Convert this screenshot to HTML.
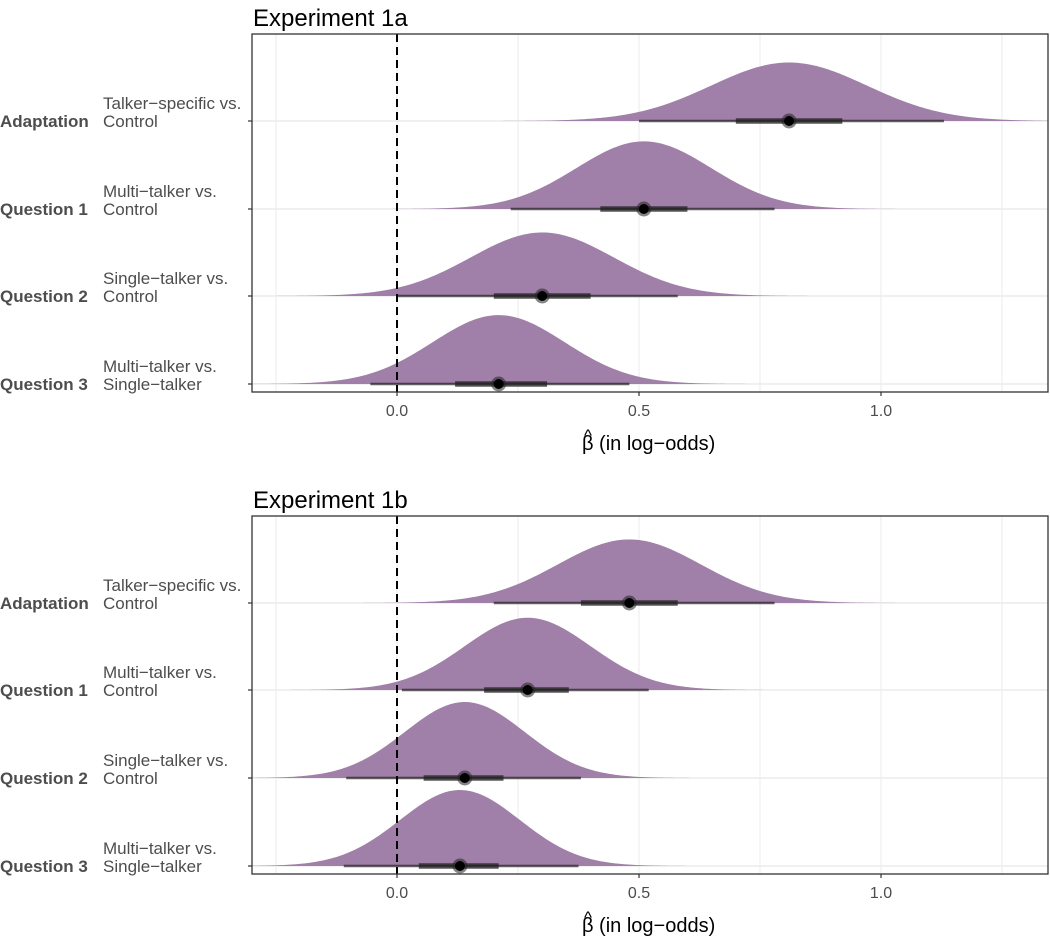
<!DOCTYPE html>
<html><head><meta charset="utf-8"><style>
body{margin:0;background:#fff;}
svg{display:block;font-family:"Liberation Sans",Arial,sans-serif;}
</style></head><body>
<svg id="chart" width="1050" height="936"></svg>
<script>
const NS="http://www.w3.org/2000/svg";
const rowBold=["Adaptation","Question 1","Question 2","Question 3"];
const rowLine1=["Talker\u2212specific vs.","Multi\u2212talker vs.","Single\u2212talker vs.","Multi\u2212talker vs."];
const rowLine2=["Control","Control","Control","Single\u2212talker"];
const panelTitles=["Experiment 1a","Experiment 1b"];
const medians1a=[0.81,0.51,0.30,0.21];
const thickLo1a=[0.70,0.42,0.20,0.12];
const thickHi1a=[0.92,0.60,0.40,0.31];
const thinLo1a=[0.50,0.235,0.0,-0.055];
const thinHi1a=[1.13,0.78,0.58,0.48];
const medians1b=[0.48,0.27,0.14,0.13];
const thickLo1b=[0.38,0.18,0.055,0.045];
const thickHi1b=[0.58,0.355,0.22,0.21];
const thinLo1b=[0.20,0.01,-0.105,-0.11];
const thinHi1b=[0.78,0.52,0.38,0.375];
const xTicks=[0,0.5,1.0];
const xTickLabels=["0.0","0.5","1.0"];
const xMinor=[-0.25,0.25,0.75,1.25];
const svg=document.getElementById('chart');
function el(t,a,p){const e=document.createElementNS(NS,t);for(const k in a)e.setAttribute(k,a[k]);(p||svg).appendChild(e);return e;}
const X0=252,X1=1048,XMIN=-0.2996,XMAX=1.345;
function xs(v){return X0+(v-XMIN)/(XMAX-XMIN)*(X1-X0);}
const panels=[{top:34,bottom:392,base:[121,209,296,384],med:medians1a,tl:thickLo1a,th:thickHi1a,nl:thinLo1a,nh:thinHi1a},
{top:516,bottom:874,base:[603,690,778,866],med:medians1b,tl:thickLo1b,th:thickHi1b,nl:thinLo1b,nh:thinHi1b}];
panels.forEach((P,pi)=>{
  const g=el('g',{});
  
  
  const t=el('text',{x:253,y:P.top-8,'font-size':24,fill:'#000'},g);t.textContent=panelTitles[pi];
  
  xMinor.concat(xTicks).forEach(v=>{el('line',{x1:xs(v),x2:xs(v),y1:P.top,y2:P.bottom,stroke:'#ebebeb','stroke-width':1},g);});
  P.base.forEach(b=>el('line',{x1:X0,x2:X1,y1:b,y2:b,stroke:'#ebebeb','stroke-width':1.5},g));
  for(let i=0;i<4;i++){
    const sd=(P.nh[i]-P.nl[i])/3.92, mu=P.med[i], b=P.base[i];
    const h=9.4/sd;
    let d='M'+X0+','+b;
    for(let px=X0;px<=X1;px+=2){const v=XMIN+(px-X0)/(X1-X0)*(XMAX-XMIN);const y=b-h*Math.exp(-0.5*((v-mu)/sd)**2);d+=' L'+px+','+y.toFixed(2);}
    d+=' L'+X1+','+b+' Z';
    const dens=el('path',{d:d,fill:'#a07fa8'},g);
    
    
    el('line',{x1:xs(P.nl[i]),x2:xs(P.nh[i]),y1:b,y2:b,stroke:'#222','stroke-opacity':0.7,'stroke-width':2.5},g);
    el('line',{x1:xs(P.tl[i]),x2:xs(P.th[i]),y1:b,y2:b,stroke:'#222','stroke-opacity':0.75,'stroke-width':5.5},g);
    el('circle',{cx:xs(mu),cy:b,r:7.5,fill:'#222','fill-opacity':0.55},g);
    const pt=el('circle',{cx:xs(mu),cy:b,r:5,fill:'#000'},g);
    
    el('line',{x1:248,x2:252,y1:b,y2:b,stroke:'#333','stroke-width':1.2},g);
    const lb=el('text',{x:0,y:b+6,'font-size':17,'font-weight':'bold',fill:'#4d4d4d'},g);lb.textContent=rowBold[i];
    
    const l1=el('text',{x:103,y:b-12,'font-size':17,fill:'#4d4d4d'},g);l1.textContent=rowLine1[i];
    
    const l2=el('text',{x:103,y:b+6,'font-size':17,fill:'#4d4d4d'},g);l2.textContent=rowLine2[i];
  }
  el('line',{x1:xs(0),x2:xs(0),y1:P.top,y2:P.bottom,stroke:'#000','stroke-width':2,'stroke-dasharray':'8,5'},g);
  el('rect',{x:X0,y:P.top,width:X1-X0,height:P.bottom-P.top,fill:'none',stroke:'#333','stroke-width':1.3},g);
  xTicks.forEach((v,k)=>{
    el('line',{x1:xs(v),x2:xs(v),y1:P.bottom,y2:P.bottom+4,stroke:'#333','stroke-width':1.2},g);
    const tl=el('text',{x:xs(v),y:P.bottom+24,'font-size':16,fill:'#4d4d4d','text-anchor':'middle'},g);tl.textContent=xTickLabels[k];
    
  });
  const at=el('text',{x:582,y:P.bottom+58,'font-size':20,fill:'#000'},g);
  at.textContent='\u03B2 (in log\u2212odds)';
  
  const hat=el('text',{x:588,y:P.bottom+49,'font-size':17,fill:'#000','text-anchor':'middle'},g);hat.textContent='^';
});
</script>
</body></html>
